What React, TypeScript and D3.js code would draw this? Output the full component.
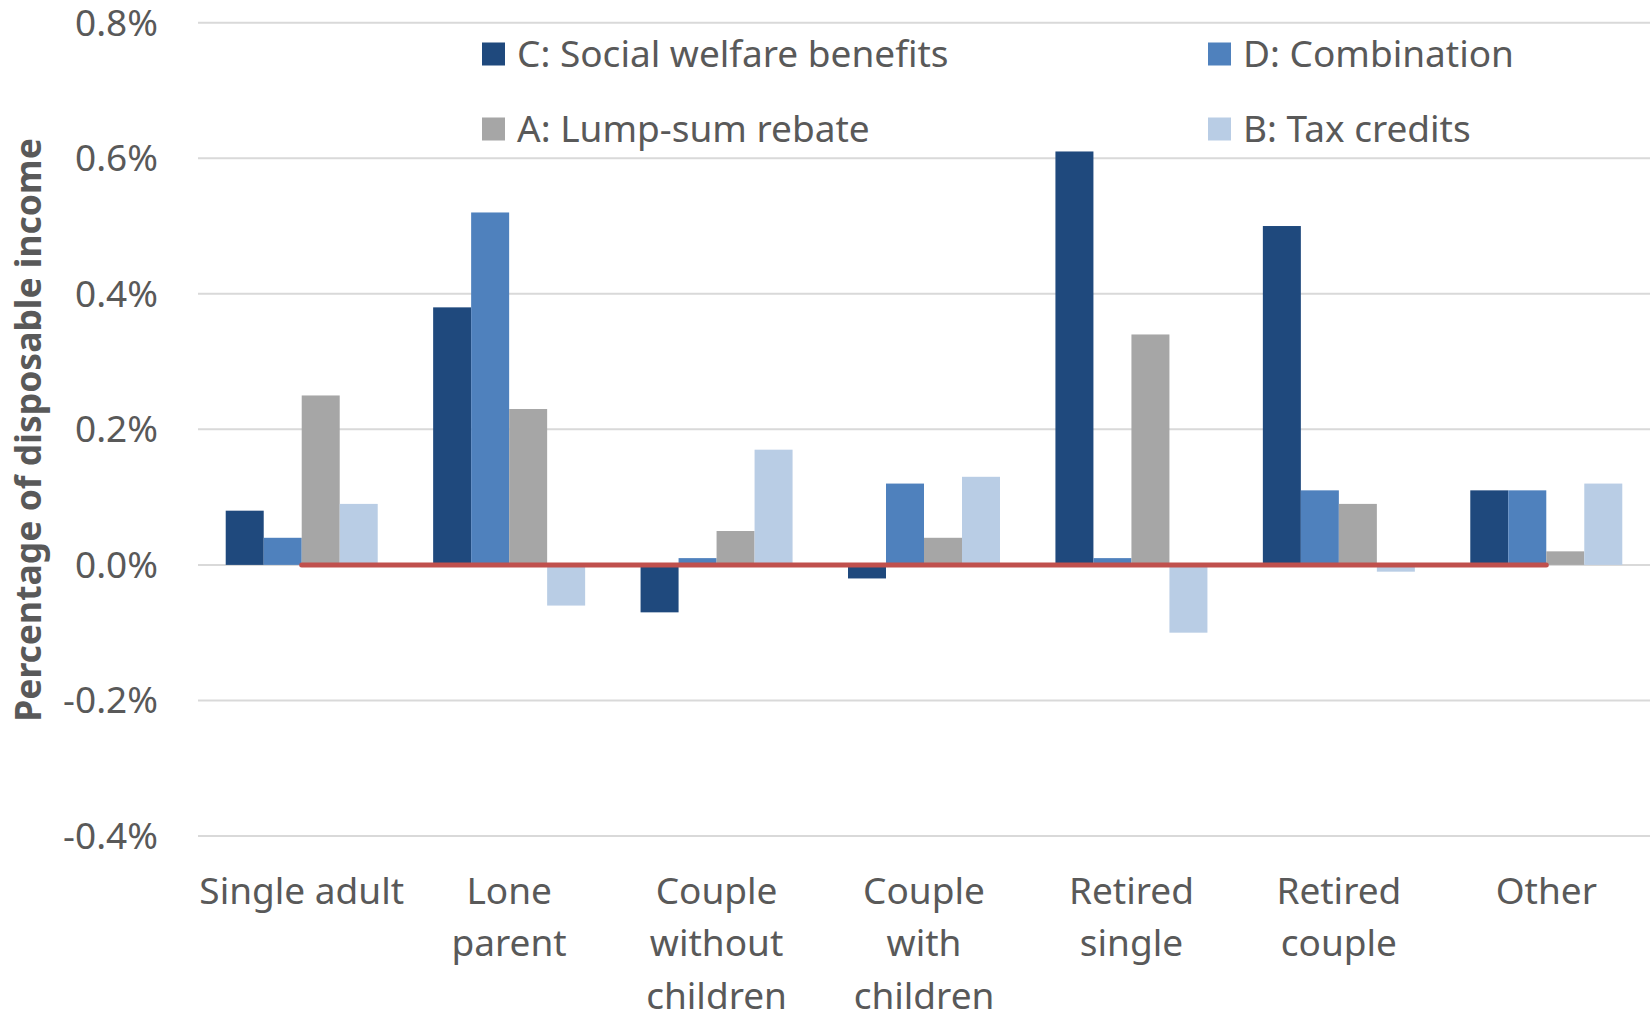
import React, { useEffect } from "react";
import * as d3 from "d3";

// Household types along the x axis (each entry is the wrapped label lines)
const categories = [
  "Single adult",
  "Lone parent",
  "Couple without children",
  "Couple with children",
  "Retired single",
  "Retired couple",
  "Other",
];
const categoryLines = [
  ["Single adult"],
  ["Lone", "parent"],
  ["Couple", "without", "children"],
  ["Couple", "with", "children"],
  ["Retired", "single"],
  ["Retired", "couple"],
  ["Other"],
];

// Change as a percentage of disposable income, per option
const socialWelfare = [0.08, 0.38, -0.07, -0.02, 0.61, 0.5, 0.11];
const combination = [0.04, 0.52, 0.01, 0.12, 0.01, 0.11, 0.11];
const lumpSum = [0.25, 0.23, 0.05, 0.04, 0.34, 0.09, 0.02];
const taxCredits = [0.09, -0.06, 0.17, 0.13, -0.1, -0.01, 0.12];
const baseline = [0, 0, 0, 0, 0, 0, 0];

const seriesNames = [
  "C: Social welfare benefits",
  "D: Combination",
  "A: Lump-sum rebate",
  "B: Tax credits",
];
const seriesValues = [socialWelfare, combination, lumpSum, taxCredits];
const seriesColors = ["#1F497D", "#4F81BD", "#A6A6A6", "#B9CDE5"];

const yTicks = [-0.4, -0.2, 0, 0.2, 0.4, 0.6, 0.8];

const W = 1650;
const H = 1013;
const FONT = "'Noto Sans', 'Open Sans', sans-serif";
const TEXT = "#595959";

// percent tick label with a plain hyphen for negatives
const pct = (t: number) => d3.format(".1%")(t / 100).replace("\u2212", "-");

export default function App() {
  useEffect(() => {
    document.body.style.margin = "0";
  }, []);

  const x = d3.scaleBand<string>().domain(categories).range([198, 1650]).padding(0);
  const bw = x.bandwidth();
  const groupW = 152;
  const inner = d3
    .scaleBand<number>()
    .domain(d3.range(seriesNames.length))
    .range([(bw - groupW) / 2, (bw + groupW) / 2])
    .padding(0);
  const y = d3.scaleLinear().domain([-0.4, 0.8]).range([836, 22.7]);

  const line = d3
    .line<number>()
    .x((_, i) => (x(categories[i]) as number) + bw / 2)
    .y((v) => y(v));

  const legendItems = [
    { i: 0, x: 482, y: 54 },
    { i: 1, x: 1208, y: 54 },
    { i: 2, x: 482, y: 129 },
    { i: 3, x: 1208, y: 129 },
  ];

  return (
    <svg width={W} height={H} style={{ display: "block", background: "#fff" }} fontFamily={FONT}>
      {/* gridlines and y tick labels */}
      {yTicks.map((t) => (
        <g key={t}>
          <line x1={198} x2={1650} y1={y(t)} y2={y(t)} stroke="#D9D9D9" strokeWidth={2} />
          <text
            x={158}
            y={y(t)}
            dy="0.35em"
            textAnchor="end"
            fontSize={37}
            fill={TEXT}
          >
            {pct(t)}
          </text>
        </g>
      ))}

      {/* bars */}
      {seriesValues.map((vals, s) =>
        vals.map((v, i) => {
          const x0 = (x(categories[i]) as number) + (inner(s) as number);
          const y0 = Math.min(y(v), y(0));
          const h = Math.abs(y(v) - y(0));
          return (
            <rect
              key={`${s}-${i}`}
              x={x0}
              y={y0}
              width={inner.bandwidth()}
              height={h}
              fill={seriesColors[s]}
            />
          );
        })
      )}

      {/* zero reference line */}
      <path
        d={line(baseline) as string}
        fill="none"
        stroke="#C0504D"
        strokeWidth={5}
        strokeLinecap="round"
      />

      {/* category labels */}
      {categoryLines.map((lines, i) => (
        <text
          key={i}
          x={(x(categories[i]) as number) + bw / 2}
          textAnchor="middle"
          fontSize={37}
          fill={TEXT}
        >
          {lines.map((l, k) => (
            <tspan key={k} x={(x(categories[i]) as number) + bw / 2} y={891 + k * 52.5} dy="0.35em">
              {l}
            </tspan>
          ))}
        </text>
      ))}

      {/* y axis title */}
      <text
        transform="translate(29,430) rotate(-90)"
        textAnchor="middle"
        dy="0.35em"
        fontSize={35.5}
        fontWeight="bold"
        fill={TEXT}
      >
        Percentage of disposable income
      </text>

      {/* legend */}
      {legendItems.map((it) => (
        <g key={it.i}>
          <rect x={it.x} y={it.y - 11.5} width={23} height={23} fill={seriesColors[it.i]} />
          <text x={it.x + 35} y={it.y} dy="0.35em" fontSize={37} fill={TEXT}>
            {seriesNames[it.i]}
          </text>
        </g>
      ))}
    </svg>
  );
}
